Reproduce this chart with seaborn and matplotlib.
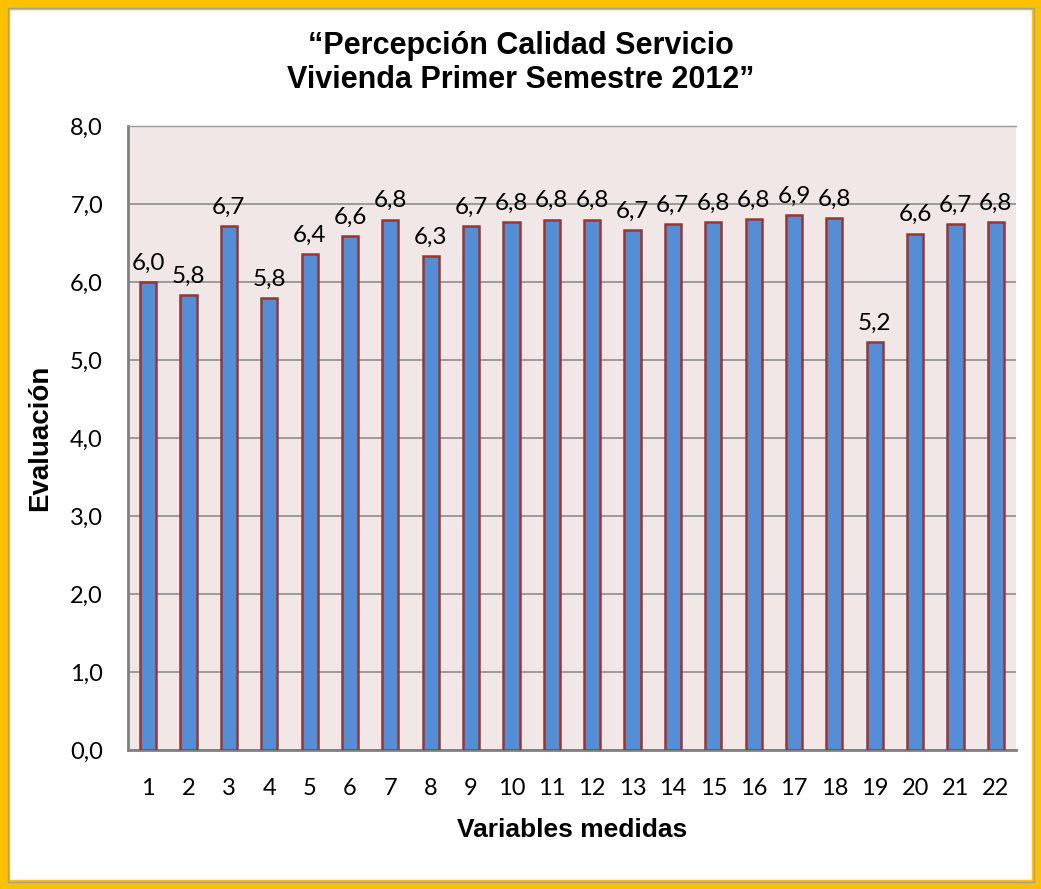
import matplotlib
matplotlib.use("Agg")
import matplotlib.pyplot as plt
import matplotlib.patches as mpatches
import seaborn as sns

variables = [str(i) for i in range(1, 23)]
evaluacion = [6.00, 5.83, 6.72, 5.79, 6.36, 6.59, 6.80, 6.33, 6.72, 6.77, 6.80,
              6.80, 6.67, 6.74, 6.77, 6.81, 6.86, 6.82, 5.23, 6.62, 6.74, 6.77]
y_ticks = [0, 1, 2, 3, 4, 5, 6, 7, 8]

sns.set_style("white")
plt.rcParams["font.family"] = ["Lato", "DejaVu Sans"]

fig = plt.figure(figsize=(10.41, 8.89), dpi=100)
fig.patch.set_facecolor("white")

# gold frame + thin gray inner line
fig.patches.append(mpatches.Rectangle((0, 0), 1, 1, transform=fig.transFigure,
                                      fill=False, edgecolor="#FFC000", linewidth=14))
fig.patches.append(mpatches.Rectangle((7.5 / 1041, 7.5 / 889), 1 - 15 / 1041, 1 - 15 / 889,
                                      transform=fig.transFigure, fill=False,
                                      edgecolor="#A0A0A0", linewidth=1))

ax = fig.add_axes([128 / 1041, 139 / 889, 888 / 1041, 624 / 889])
ax.set_facecolor("#F2E7E7")

sns.barplot(x=variables, y=evaluacion, color="#558ED5", width=0.4,
            edgecolor="#953735", linewidth=1.8, saturation=1, ax=ax, zorder=3)

ax.bar_label(ax.containers[0], fmt=lambda v: f"{v:.1f}".replace(".", ","),
             padding=6, fontsize=17.5, color="black")

ax.set_ylim(0, 8)
ax.set_yticks(y_ticks)
ax.set_yticklabels([f"{t:.1f}".replace(".", ",") for t in y_ticks])
ax.yaxis.grid(True, color="#8C8C8C", linewidth=1.2, zorder=0)
ax.set_axisbelow(True)
ax.tick_params(axis="both", length=0, labelsize=17, colors="black")
ax.tick_params(axis="y", pad=18)
ax.tick_params(axis="x", pad=20)

for side in ["left", "bottom"]:
    ax.spines[side].set_color("#808080")
    ax.spines[side].set_linewidth(2)
ax.spines["top"].set_color("#9A9A9A")
ax.spines["top"].set_linewidth(1)
ax.spines["right"].set_visible(False)

ax.set_xlabel("Variables medidas", fontsize=19, fontweight="bold",
              family="Liberation Sans", labelpad=14, color="black")
ax.set_ylabel("Evaluación", fontsize=20, fontweight="bold",
              family="Liberation Sans", labelpad=12, color="black")

fig.text(0.5, 1 - 63 / 889, "“Percepción Calidad Servicio\nVivienda Primer Semestre 2012”",
         ha="center", va="center", fontsize=22, fontweight="bold", color="black",
         family="Liberation Sans", linespacing=1.15)

plt.savefig("out.png", dpi=100)
